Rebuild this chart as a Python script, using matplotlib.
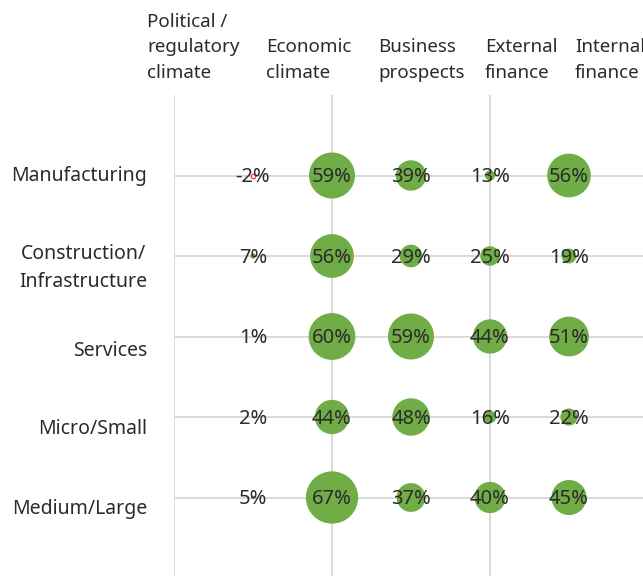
import matplotlib.pyplot as plt
import numpy as np

# data
rows = ['Manufacturing', 'Construction/\nInfrastructure', 'Services', 'Micro/Small', 'Medium/Large']
cols = ['Political /\nregulatory\nclimate', 'Economic\nclimate', 'Business\nprospects',
        'External\nfinance', 'Internal\nfinance']
political = [-2, 7, 1, 2, 5]
economic = [59, 56, 60, 44, 67]
business = [39, 29, 59, 48, 37]
external = [13, 25, 44, 16, 40]
internal = [56, 19, 51, 22, 45]

values = np.array([political, economic, business, external, internal]).T  # rows x cols

plt.rcParams['font.family'] = ['Noto Sans', 'DejaVu Sans']
text_col = '#2b2b2b'
green = '#70AD47'
grid_col = '#D9D9D9'

fig = plt.figure(figsize=(6.43, 5.76), dpi=100)
W, H = 643, 576
# axes: x 0..6 spans 174..648 px, y 0..6 spans 95..578 px
ax = fig.add_axes([174 / W, 1 - 578 / H, (648 - 174) / W, (578 - 95) / H])
ax.set_xlim(0, 6)
ax.set_ylim(6, 0)

for x in [0, 2, 4, 6]:
    ax.axvline(x, color=grid_col, lw=1.4, zorder=0)
for y in range(1, 6):
    ax.axhline(y, color=grid_col, lw=1.4, zorder=0)

px_to_pt = 72 / 100
for i in range(len(rows)):
    for j in range(len(cols)):
        v = values[i, j]
        y = i + 1
        x = j + 1
        d = abs(v) * 0.78 * px_to_pt
        if v >= 0:
            ax.scatter(x, y, s=d ** 2, color=green, edgecolors='none', zorder=2)
        else:
            ax.scatter(x, y, s=max(d, 3.2) ** 2, facecolor='white', edgecolors='#FF4B4B',
                       linewidths=1, zorder=2)
        ax.text(x, y + 0.02, f'{v}%', ha='center', va='center', fontsize=14.5,
                color=text_col, zorder=3)

# row label text boxes sit a little below the gridlines, as in the original
label_y = [1.0, 2.15, 3.18, 4.15, 5.14]
for ly, r in zip(label_y, rows):
    ax.text(-0.34, ly, r, ha='right', va='center', fontsize=14, color=text_col,
            multialignment='center', linespacing=1.55)

head_x = [147, 266, 378, 485, 575]
for hx, c in zip(head_x, cols):
    fig.text(hx / W, 1 - 82 / H, c, ha='left', va='bottom', fontsize=13.5,
             color=text_col, linespacing=1.55)

for s in ax.spines.values():
    s.set_visible(False)
ax.set_xticks([])
ax.set_yticks([])

fig.savefig('out.png', dpi=100)
